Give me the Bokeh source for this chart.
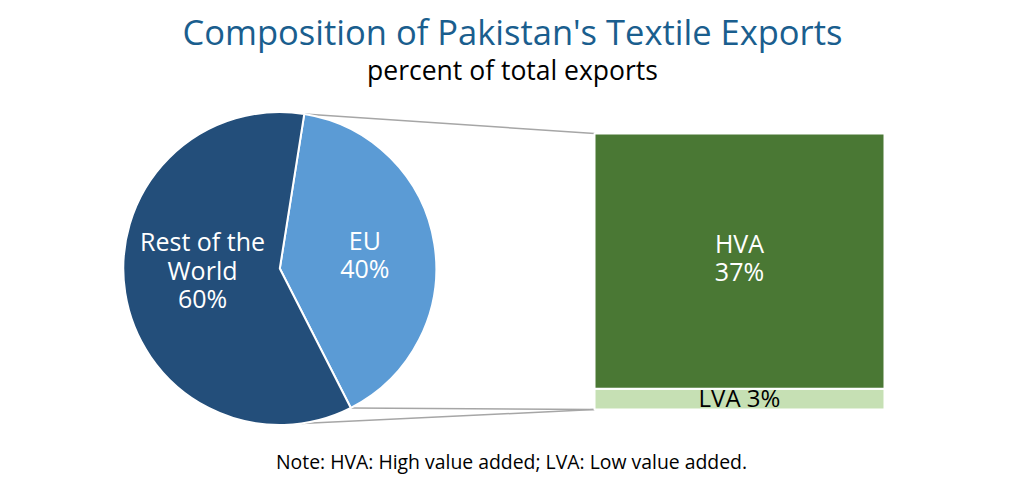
import math
from bokeh.plotting import figure
from bokeh.models import Range1d, ColumnDataSource
from bokeh.core.properties import value
from bokeh.embed import file_html
from bokeh.resources import INLINE

# ---------------- data ----------------
pie_labels = ["EU", "Rest of the\nWorld"]
pie_shares = [40, 60]
pie_colors = ["#5b9bd5", "#234e7a"]

bar_labels = ["LVA", "HVA"]
bar_shares = [3, 37]
bar_colors = ["#c6e0b4", "#4a7834"]

title_text = "Composition of Pakistan's Textile Exports"
subtitle_text = "percent of total exports"
note_text = "Note: HVA: High value added; LVA: Low value added."

# ---------------- layout ----------------
W, H = 1024, 479
FONT = value("Open Sans")


def X(px):
    return px


def Y(py):
    return H - py


p = figure(width=W, height=H, x_range=Range1d(0, W), y_range=Range1d(0, H),
           output_backend="svg", toolbar_location=None, min_border=0,
           x_axis_location=None, y_axis_location=None)
p.grid.visible = False
p.outline_line_color = None
p.background_fill_color = "white"
p.border_fill_color = "white"

# pie geometry
cx, cy, R = X(279.3), Y(268), 156.5
start_offset = 9.0  # degrees clockwise from 12 o'clock

total = sum(pie_shares)
theta = start_offset
w_start, w_end, mids, t_bounds = [], [], [], []
for s in pie_shares:
    span = 360.0 * s / total
    t0, t1 = theta, theta + span
    w_start.append(math.radians(90 - t1))
    w_end.append(math.radians(90 - t0))
    mids.append(t0 + span / 2)
    t_bounds.append((t0, t1))
    theta = t1


def on_circle(t_deg, r=R):
    t = math.radians(t_deg)
    return cx + r * math.sin(t), cy + r * math.cos(t)


# bar geometry
bar_left, bar_right = X(594), X(884)
bar_bottom = Y(409)
unit = (409 - 133) / sum(bar_shares)
bottoms, tops = [], []
acc = 0
for s in bar_shares:
    bottoms.append(bar_bottom + acc * unit)
    acc += s
    tops.append(bar_bottom + acc * unit)
bar_top = tops[-1]

# connector lines
eu_t0, eu_t1 = t_bounds[0]
p0 = on_circle(eu_t0)
p1 = on_circle(eu_t1)
p2 = on_circle(172)
p.multi_line(xs=[[p0[0], bar_left], [p1[0], bar_left], [p2[0], bar_left]],
             ys=[[p0[1], bar_top], [p1[1], bar_bottom], [p2[1], bar_bottom]],
             line_color="#a6a6a6", line_width=1.5)

# pie
pie_src = ColumnDataSource(dict(x=[cx] * len(pie_shares), y=[cy] * len(pie_shares),
                                s=w_start, e=w_end, c=pie_colors))
p.wedge(x="x", y="y", radius=R, start_angle="s", end_angle="e", fill_color="c",
        line_color="white", line_width=2, source=pie_src)

label_r = [0.55, 0.50]
label_dy = [-1, -11]
lx, ly, lt = [], [], []
for lab, s, m, rf in zip(pie_labels, pie_shares, mids, label_r):
    x, y = on_circle(m, rf * R)
    lx.append(x)
    ly.append(y)
    lt.append(f"{lab}\n{s}%")
lab_src = ColumnDataSource(dict(x=lx, y=ly, t=lt, dy=label_dy))
p.text(x="x", y="y", text="t", y_offset="dy", source=lab_src, text_font=FONT,
       text_font_size="25px", text_color="white",
       text_align="center", text_baseline="middle", text_line_height=0.84)

# bar
bar_src = ColumnDataSource(dict(left=[bar_left] * len(bar_shares), right=[bar_right] * len(bar_shares),
                                bottom=bottoms, top=tops, c=bar_colors))
p.quad(left="left", right="right", bottom="bottom", top="top", fill_color="c",
       line_color="white", line_width=2, source=bar_src)

bx = (bar_left + bar_right) / 2
p.text(x=[bx], y=[(bottoms[1] + tops[1]) / 2], text=[f"{bar_labels[1]}\n{bar_shares[1]}%"],
       y_offset=-4, text_font=FONT, text_font_size="25px", text_color="white",
       text_align="center", text_baseline="middle", text_line_height=0.84)
p.text(x=[bx], y=[(bottoms[0] + tops[0]) / 2], text=[f"{bar_labels[0]} {bar_shares[0]}%"],
       y_offset=-2, text_font=FONT, text_font_size="24px", text_color="black",
       text_align="center", text_baseline="middle")

# titles and note
p.text(x=[X(512)], y=[Y(31)], text=[title_text], text_font=FONT, text_font_size="34.5px",
       text_color="#1a5e8e", text_align="center", text_baseline="middle")
p.text(x=[X(512)], y=[Y(69)], text=[subtitle_text], text_font=FONT, text_font_size="26.5px",
       text_color="black", text_align="center", text_baseline="middle")
p.text(x=[X(511)], y=[Y(461)], text=[note_text], text_font=FONT, text_font_size="19.4px",
       text_color="black", text_align="center", text_baseline="middle")

open("out.html", "w").write(file_html(p, INLINE))
